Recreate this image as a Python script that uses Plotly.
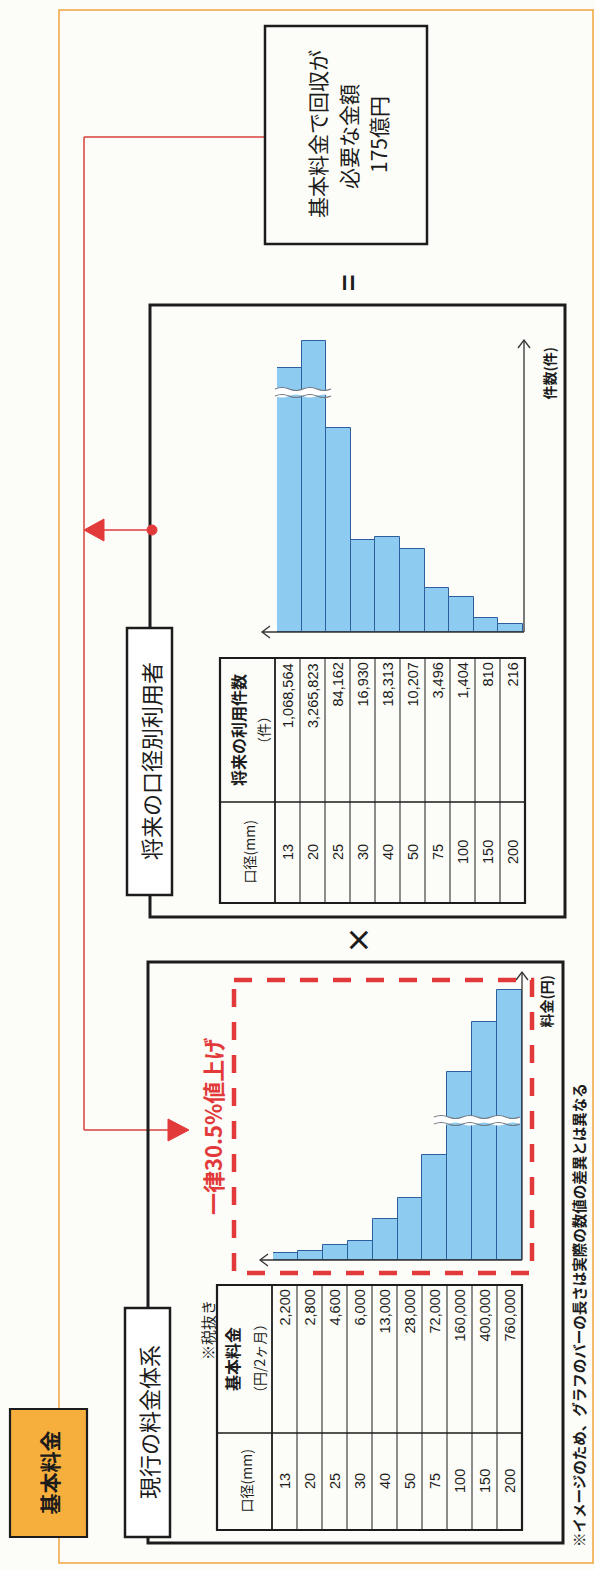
import plotly.graph_objects as go

W, H = 595, 1570
JP = "Noto Sans CJK JP"
NUM = "Liberation Sans, Arial"
INK = "#1c1c1c"
RED = "#e23a3a"

# ---- data ---------------------------------------------------------------
diameters = ["13", "20", "25", "30", "40", "50", "75", "100", "150", "200"]
base_fee = [2200, 2800, 4600, 6000, 13000, 28000, 72000, 160000, 400000, 760000]
future_users = [1068564, 3265823, 84162, 16930, 18313, 10207, 3496, 1404, 810, 216]
# illustrative bar lengths (drawn for the image only, not to scale)
fee_bar_len = [7, 9, 15, 19, 41, 62, 105, 188, 238, 270]
user_bar_len = [264, 291, 204, 92, 95, 83, 44, 35, 14, 8]

# ---- helpers -----------------------------------------------------------
shapes, annotations = [], []


def xd(px):
    return px / W


def yd(py):
    return 1 - py / H


def rect(x0, y0, x1, y1, color=INK, width=2.5, fill=None, dash=None):
    shapes.append(dict(type="rect", xref="x", yref="y", x0=x0, y0=y0, x1=x1, y1=y1,
                       line=dict(color=color, width=width, dash=dash),
                       fillcolor=fill if fill else "rgba(0,0,0,0)"))


def seg(x0, y0, x1, y1, color=INK, width=1.0, dash=None):
    shapes.append(dict(type="line", xref="x", yref="y", x0=x0, y0=y0, x1=x1, y1=y1,
                       line=dict(color=color, width=width, dash=dash)))


def path(d, color=INK, width=1.0, fill=None):
    shapes.append(dict(type="path", xref="x", yref="y", path=d,
                       line=dict(color=color, width=width),
                       fillcolor=fill if fill else "rgba(0,0,0,0)"))


def dot(x, y, r, color):
    shapes.append(dict(type="circle", xref="x", yref="y", x0=x - r, y0=y - r,
                       x1=x + r, y1=y + r, line=dict(color=color, width=1),
                       fillcolor=color))


def vtext(x, y, text, size, color=INK, bold=False, family=JP,
          xanchor="center", yanchor="middle"):
    annotations.append(dict(x=x, y=y, xref="x", yref="y",
                            text=f"<b>{text}</b>" if bold else text,
                            showarrow=False, textangle=-90,
                            font=dict(size=size, color=color, family=family),
                            xanchor=xanchor, yanchor=yanchor, borderpad=0))


def wave_pts(x0, x1, y, amp, period, reverse=False):
    n = int(round((x1 - x0) / period))
    step = (x1 - x0) / n
    xs = [x0 + i * step for i in range(n + 1)]
    if reverse:
        xs = xs[::-1]
        step = -step
    d = ""
    for i in range(n):
        xa = xs[i]
        d += f" Q {xa + step / 4:.1f},{y - amp:.1f} {xa + step / 2:.1f},{y:.1f}"
        d += f" Q {xa + 3 * step / 4:.1f},{y + amp:.1f} {xa + step:.1f},{y:.1f}"
    return xs[0], d


def break_mark(x0, x1, y_top, y_bot):
    sx, top = wave_pts(x0, x1, y_top, 3, 26)
    ex, bot = wave_pts(x0, x1, y_bot, 3, 26, reverse=True)
    path(f"M {sx},{y_top}{top} L {ex},{y_bot}{bot} Z", color="rgba(0,0,0,0)", width=0, fill="#ffffff")
    path(f"M {sx},{y_top}{top}", color="#6f7780", width=1.1)
    _, bot2 = wave_pts(x0, x1, y_bot, 3, 26)
    path(f"M {x0},{y_bot}{bot2}", color="#6f7780", width=1.1)


# ---- outer frame and section label -------------------------------------
rect(59, 10, 593, 1563, color="#f0a53a", width=1.5)
rect(10, 1409, 87, 1537, color=INK, width=2.2, fill="#f6ae3d")
vtext(48.5, 1473, "基本料金", 21, bold=True)

# ---- red connector -----------------------------------------------------
seg(84, 137, 265, 137, color="#d8423c", width=1.5)
seg(84, 137, 84, 1130, color="#d8423c", width=1.5)
seg(84, 1130, 170, 1130, color="#d8423c", width=1.5)
path("M 168,1119 L 189,1130 L 168,1141 Z", color=RED, width=1, fill=RED)
seg(103, 530, 152, 530, color=RED, width=1.5)
path("M 104,519 L 84,530 L 104,541 Z", color=RED, width=1, fill=RED)

# ---- total box ----------------------------------------------------------
rect(265, 26, 427, 244, width=2.5)
vtext(317, 134, "基本料金で回収が", 21)
vtext(348, 137, "必要な金額", 21)
vtext(378, 135, "175億円", 21)
vtext(347, 283, "<b>=</b>", 28)

# ---- future users panel -------------------------------------------------
rect(150, 305, 565, 917, width=3)
rect(127, 628, 172, 895, width=2.5, fill="#ffffff")
vtext(150, 761, "将来の口径別利用者", 22)
dot(152, 530, 5, RED)

# table
tx0, tx1, ty0, ty1 = 220, 525, 658, 903
hx, cy = 275, 802
rect(tx0, ty0, tx1, ty1, width=2.2)
seg(tx0, cy, tx1, cy, width=1.4)
seg(hx, ty0, hx, ty1, width=1.8)
for i in range(1, 10):
    x = hx + i * (tx1 - hx) / 10
    seg(x, ty0, x, ty1, width=1.0)
vtext(248, (cy + ty1) / 2, "口径(mm)", 14)
vtext(238, (ty0 + cy) / 2, "将来の利用件数", 16, bold=True)
vtext(263, (ty0 + cy) / 2, "（件）", 14)
for i, (d, v) in enumerate(zip(diameters, future_users)):
    xc = hx + (i + 0.5) * (tx1 - hx) / 10
    vtext(xc, (cy + ty1) / 2, d, 14.5, family=NUM)
    vtext(xc, ty0 + 4, f"{v:,}", 14.5, family=NUM, yanchor="top")

# chart axes (arrows)
seg(262, 632, 524, 632, color="#333", width=1.3)
path("M 270,626 L 262,632 L 270,638", color="#333", width=1.3)
seg(524, 632, 524, 340, color="#333", width=1.3)
path("M 518,348 L 524,340 L 530,348", color="#333", width=1.3)
vtext(548, 346, "件数(件)", 14, bold=True, yanchor="top")
break_mark(275, 331, 389, 396)

# ---- multiplier ---------------------------------------------------------
vtext(358, 940, "<b>×</b>", 28)

# ---- current fee panel --------------------------------------------------
rect(148, 962, 563, 1543, width=3)
rect(125, 1308, 170, 1537, width=2.5, fill="#ffffff")
vtext(148, 1422, "現行の料金体系", 22)
vtext(207, 1330, "※税抜き", 15)

lx0, lx1, ly0, ly1 = 217, 522, 1285, 1530
lhx, lcy = 272, 1433
rect(lx0, ly0, lx1, ly1, width=2.2)
seg(lx0, lcy, lx1, lcy, width=1.4)
seg(lhx, ly0, lhx, ly1, width=1.8)
for i in range(1, 10):
    x = lhx + i * (lx1 - lhx) / 10
    seg(x, ly0, x, ly1, width=1.0)
vtext(245, (lcy + ly1) / 2, "口径(mm)", 14)
vtext(232, (ly0 + lcy) / 2, "基本料金", 16, bold=True)
vtext(259, (ly0 + lcy) / 2, "（円/2ヶ月）", 14)
for i, (d, v) in enumerate(zip(diameters, base_fee)):
    xc = lhx + (i + 0.5) * (lx1 - lhx) / 10
    vtext(xc, (lcy + ly1) / 2, d, 14.5, family=NUM)
    vtext(xc, ly0 + 4, f"{v:,}", 14.5, family=NUM, yanchor="top")

# chart axes (arrows)
seg(260, 1260, 522, 1260, color="#333", width=1.3)
path("M 268,1254 L 260,1260 L 268,1266", color="#333", width=1.3)
seg(522, 1260, 522, 972, color="#333", width=1.3)
path("M 516,980 L 522,972 L 528,980", color="#333", width=1.3)
vtext(545, 974, "料金(円)", 14, bold=True, yanchor="top")
break_mark(434, 520, 1117, 1124)

# red dashed frame and label
rect(234, 980, 532, 1273, color=RED, width=4.5, dash="18px,15px")
vtext(212, 1127, "一律30.5%値上げ", 22, color=RED, bold=True)

# footnote
vtext(578, 1315, "※イメージのため、グラフのバーの長さは実際の数値の差異とは異なる", 14.5, bold=True)

# ---- figure --------------------------------------------------------------
BAR_FILL = "#8ecbf1"
BAR_EDGE = "#2d5f9e"

fig = go.Figure()
fig.add_trace(go.Bar(x=diameters, y=fee_bar_len, xaxis="x2", yaxis="y2",
                     marker=dict(color=BAR_FILL, line=dict(color=BAR_EDGE, width=1)),
                     hoverinfo="skip", showlegend=False))
fig.add_trace(go.Bar(x=diameters, y=user_bar_len, xaxis="x3", yaxis="y3",
                     marker=dict(color=BAR_FILL, line=dict(color=BAR_EDGE, width=1)),
                     hoverinfo="skip", showlegend=False))

hidden = dict(visible=False, showgrid=False, zeroline=False, fixedrange=True)
fig.update_layout(
    width=W, height=H, margin=dict(l=0, r=0, t=0, b=0),
    paper_bgcolor="#fcfcf8", plot_bgcolor="rgba(0,0,0,0)",
    bargap=0,
    xaxis=dict(range=[0, W], domain=[0, 1], **hidden),
    yaxis=dict(range=[H, 0], domain=[0, 1], **hidden),
    xaxis2=dict(domain=[xd(273), xd(522)], range=[-0.5, 9.5], anchor="y2",
                type="category", **hidden),
    yaxis2=dict(domain=[yd(1260), yd(960)], range=[0, 300], anchor="x2", **hidden),
    xaxis3=dict(domain=[xd(277), xd(523)], range=[-0.5, 9.5], anchor="y3",
                type="category", **hidden),
    yaxis3=dict(domain=[yd(632), yd(332)], range=[0, 300], anchor="x3", **hidden),
    shapes=shapes,
    annotations=annotations,
)

fig.write_html("out.html", config={"displayModeBar": False})
